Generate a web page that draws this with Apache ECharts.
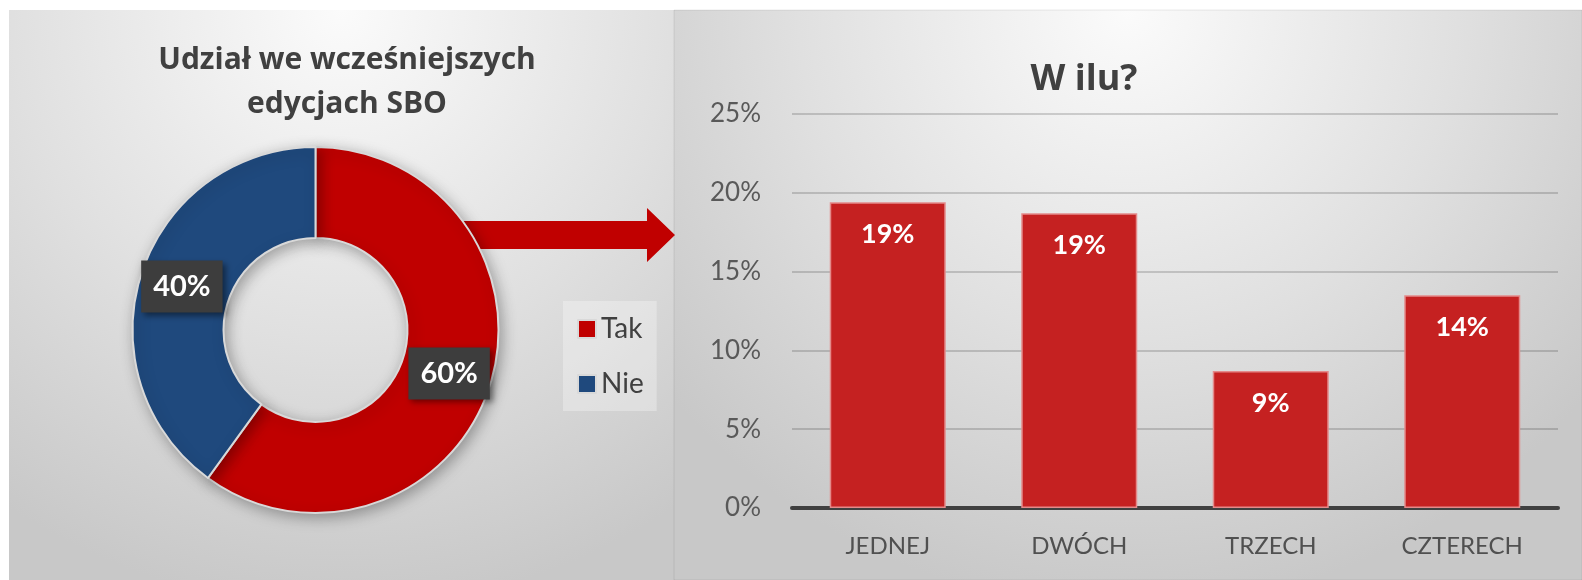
<!DOCTYPE html>
<html>
<head>
<meta charset="utf-8">
<script src="https://cdn.jsdelivr.net/npm/echarts@6/dist/echarts.min.js"></script>
<style>
  html, body { margin: 0; padding: 0; background: #fff; }
  #chart-container { width: 1582px; height: 580px; }
</style>
</head>
<body>
<div id="chart-container"></div>
<script>
// donut: udział we wcześniejszych edycjach
var pieNames = ['Tak', 'Nie'];
var pieValues = [60, 40];
var pieColors = ['#C00000', '#1F497D'];

// bars: w ilu edycjach
var barCategories = ['JEDNEJ', 'DWÓCH', 'TRZECH', 'CZTERECH'];
var barValues = [19.4, 18.7, 8.7, 13.5];
var yTicks = [0, 5, 10, 15, 20, 25];

var FONT = 'Lato';
var TITLE_FONT = 'Open Sans';

var dom = document.getElementById('chart-container');
var myChart = echarts.init(dom, null, { renderer: 'canvas' });

function panelFill() {
  return new echarts.graphic.RadialGradient(0.5, 0, 1.05, [
    { offset: 0, color: '#fbfbfb' },
    { offset: 0.55, color: '#e0e0e0' },
    { offset: 1, color: '#c8c8c8' }
  ]);
}

var option = {
  animation: false,
  textStyle: { fontFamily: FONT },
  graphic: [
    {
      type: 'rect', z: -10,
      shape: { x: 9, y: 10, width: 665, height: 570 },
      style: { fill: panelFill() }
    },
    {
      type: 'rect', z: -10,
      shape: { x: 674, y: 10, width: 908, height: 570 },
      style: { fill: panelFill(), stroke: 'rgba(0,0,0,0.08)', lineWidth: 1 }
    },
    {
      // arrow from the "Tak" slice to the bar chart
      type: 'polygon', z: 1,
      shape: {
        points: [[420, 221], [647, 221], [647, 208], [675, 235], [647, 262], [647, 249], [420, 249]]
      },
      style: { fill: '#C00000' }
    }
  ],
  title: [
    {
      text: 'Udział we wcześniejszych\nedycjach SBO',
      left: 342, top: 33, textAlign: 'center',
      textStyle: { fontFamily: TITLE_FONT, fontSize: 30, fontWeight: 'bold', color: '#404040', lineHeight: 44 }
    },
    {
      text: 'W ilu?',
      left: 1079, top: 57, textAlign: 'center',
      textStyle: { fontFamily: TITLE_FONT, fontSize: 36, fontWeight: 'bold', color: '#404040' }
    }
  ],
  legend: {
    data: pieNames,
    orient: 'vertical',
    left: 563, top: 301,
    padding: [14, 13, 13, 14],
    backgroundColor: 'rgba(255,255,255,0.3)',
    icon: 'rect',
    itemWidth: 18, itemHeight: 18,
    itemGap: 27,
    textStyle: { fontFamily: FONT, fontSize: 28, lineHeight: 28, color: '#404040' }
  },
  grid: { left: 792, right: 24, top: 114, bottom: 72, containLabel: false },
  xAxis: {
    type: 'category',
    data: barCategories,
    axisLine: { lineStyle: { color: '#404040', width: 4 } },
    axisTick: { show: false },
    axisLabel: { fontFamily: FONT, fontSize: 24, color: '#505050', margin: 26 }
  },
  yAxis: {
    type: 'value',
    min: yTicks[0], max: yTicks[yTicks.length - 1], interval: 5,
    axisLine: { show: false },
    axisTick: { show: false },
    axisLabel: { fontFamily: FONT, fontSize: 26, color: '#595959', margin: 31, formatter: '{value}%' },
    splitLine: { lineStyle: { color: 'rgba(0,0,0,0.16)', width: 2 } }
  },
  series: [
    {
      type: 'pie',
      center: [315.5, 330],
      radius: [92, 183],
      startAngle: 90,
      clockwise: true,
      z: 3,
      itemStyle: {
        borderColor: '#d9d9d9', borderWidth: 2,
        shadowBlur: 14, shadowColor: 'rgba(0,0,0,0.3)', shadowOffsetX: 3, shadowOffsetY: 4
      },
      label: {
        position: 'inside',
        formatter: '{c}%',
        fontFamily: FONT, fontSize: 29, fontWeight: 'bold', color: '#fff',
        lineHeight: 28,
        backgroundColor: '#3d3d3d',
        padding: [12, 12],
        shadowBlur: 6, shadowColor: 'rgba(0,0,0,0.45)', shadowOffsetX: 3, shadowOffsetY: 3
      },
      labelLine: { show: false },
      emphasis: { disabled: true },
      data: pieNames.map(function (n, i) {
        return { name: n, value: pieValues[i], itemStyle: { color: pieColors[i] } };
      })
    },
    {
      type: 'bar',
      data: barValues,
      barWidth: 116,
      itemStyle: { color: '#C52121', borderColor: '#e48a8a', borderWidth: 1.5 },
      label: {
        show: true,
        position: 'insideTop',
        distance: 19,
        fontFamily: FONT, fontSize: 27, fontWeight: 'bold', color: '#fff',
        formatter: function (p) { return Math.round(p.value) + '%'; }
      }
    }
  ]
};

myChart.setOption(option);
window.addEventListener('resize', myChart.resize);
</script>
</body>
</html>
